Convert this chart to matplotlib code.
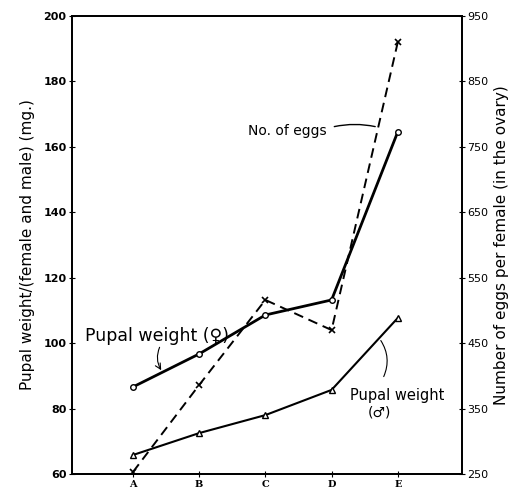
import matplotlib.pyplot as plt
import numpy as np

groups = ['A', 'B', 'C', 'D', 'E']
weight_female = [86.6, 96.7, 108.6, 113.2, 164.6]
weight_male = [65.8, 72.5, 78.0, 85.7, 107.7]
eggs = [253, 386, 516, 470, 910]

left_ticks = [60, 80, 100, 120, 140, 160, 180, 200]
right_ticks = [250, 350, 450, 550, 650, 750, 850, 950]

fig = plt.figure(figsize=(5.23, 4.92), dpi=100)
ax = fig.add_axes([0.1377, 0.0366, 0.7457, 0.9309])
ax2 = ax.twinx()

x = np.arange(len(groups))

ax.plot(x, weight_female, '-', color='black', linewidth=2.0,
        marker='o', markersize=4, markerfacecolor='white', markeredgewidth=1)
ax.plot(x, weight_male, '-', color='black', linewidth=1.5,
        marker='^', markersize=4, markerfacecolor='white', markeredgewidth=1)
ax2.plot(x, eggs, '--', color='black', linewidth=1.4, dashes=(5, 3),
         marker='x', markersize=4, markeredgewidth=1.2)

ax.set_xlim(-0.92, 4.97)
ax.set_ylim(60, 200)
ax2.set_ylim(250, 950)

ax.set_xticks(x)
ax.set_xticklabels(groups, fontsize=7, fontweight='bold', family='DejaVu Serif')
ax.set_yticks(left_ticks)
ax.set_yticklabels([str(t) for t in left_ticks], fontsize=8, fontweight='bold')
ax2.set_yticks(right_ticks)
ax2.set_yticklabels([str(t) for t in right_ticks], fontsize=8)

ax.tick_params(axis='both', direction='inout', length=4, width=0.8, pad=2)
ax2.tick_params(axis='y', direction='inout', length=4, width=0.8, pad=2)

for a in (ax, ax2):
    for s in a.spines.values():
        s.set_linewidth(1.3)

ax.set_ylabel('Pupal weight/(female and male) (mg.)', fontsize=11, labelpad=6)
ax2.set_ylabel('Number of eggs per female (in the ovary)', fontsize=11, labelpad=4)

# hand drawn labels with leaders
ax.text(-0.72, 100.5, 'Pupal weight (\u2640)', fontsize=12.5)
ax.annotate('', xy=(0.45, 91.0), xytext=(0.42, 99.5),
            arrowprops=dict(arrowstyle='->', color='black', lw=0.8,
                            connectionstyle='arc3,rad=0.3'))

ax.text(1.74, 163.5, 'No. of eggs', fontsize=10)
ax.annotate('', xy=(3.7, 166), xytext=(3.0, 166),
            arrowprops=dict(arrowstyle='-', color='black', lw=1,
                            connectionstyle='arc3,rad=-0.12'))

ax.text(3.28, 82.5, 'Pupal weight', fontsize=10.5)
ax.text(3.55, 77.5, '(\u2642)', fontsize=10)
ax.annotate('', xy=(3.72, 101.5), xytext=(3.77, 89),
            arrowprops=dict(arrowstyle='-', color='black', lw=0.8,
                            connectionstyle='arc3,rad=0.3'))

fig.savefig('out.png', dpi=100)
